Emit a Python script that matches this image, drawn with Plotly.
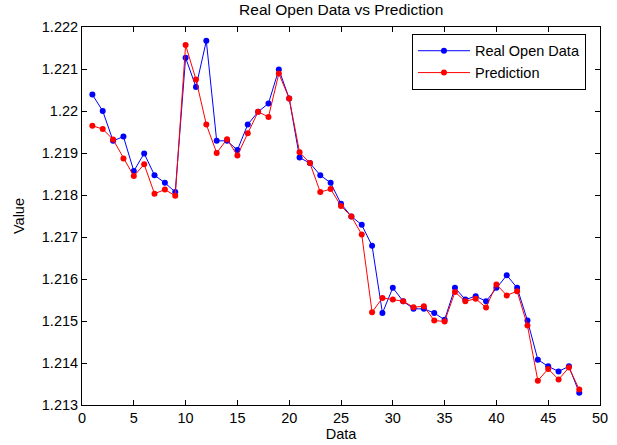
import plotly.graph_objects as go

x = list(range(1, 49))
real_open = [1.22039, 1.22000, 1.21929, 1.21939, 1.21857, 1.21899, 1.21847, 1.21829, 1.21807, 1.22127,
             1.22057, 1.22167, 1.21929, 1.21929, 1.21907, 1.21968, 1.21998, 1.22018, 1.22099, 1.22030,
             1.21889, 1.21876, 1.21847, 1.21829, 1.21779, 1.21749, 1.21729, 1.21679, 1.21519, 1.21579,
             1.21547, 1.21529, 1.21529, 1.21519, 1.21503, 1.21579, 1.21551, 1.21559, 1.21547, 1.21579,
             1.21609, 1.21579, 1.21501, 1.21408, 1.21392, 1.21380, 1.21392, 1.21329]
prediction = [1.21965, 1.21957, 1.21932, 1.21887, 1.21845, 1.21873, 1.21803, 1.21813, 1.21798, 1.22157,
              1.22075, 1.21968, 1.21900, 1.21933, 1.21894, 1.21947, 1.21998, 1.21986, 1.22089, 1.22030,
              1.21902, 1.21876, 1.21807, 1.21814, 1.21774, 1.21749, 1.21706, 1.21521, 1.21555, 1.21551,
              1.21547, 1.21533, 1.21535, 1.21501, 1.21499, 1.21569, 1.21547, 1.21553, 1.21532, 1.21587,
              1.21561, 1.21571, 1.21489, 1.21358, 1.21386, 1.21361, 1.21389, 1.21337]

xticks = [0, 5, 10, 15, 20, 25, 30, 35, 40, 45, 50]
yticks = [1.213, 1.214, 1.215, 1.216, 1.217, 1.218, 1.219, 1.220, 1.221, 1.222]
yticktext = ["1.213", "1.214", "1.215", "1.216", "1.217", "1.218", "1.219", "1.22", "1.221", "1.222"]

font = "Liberation Sans, Arial, Helvetica, sans-serif"

fig = go.Figure()
fig.add_trace(go.Scatter(x=x, y=real_open, mode="lines+markers", name="Real Open Data",
                         line=dict(color="#0000ff", width=1), marker=dict(color="#0000ff", size=6)))
fig.add_trace(go.Scatter(x=x, y=prediction, mode="lines+markers", name="Prediction",
                         line=dict(color="#ff0000", width=1), marker=dict(color="#ff0000", size=6)))

axis_common = dict(showline=True, linecolor="black", linewidth=1, mirror="ticks", ticks="inside",
                   ticklen=5, tickcolor="black", showgrid=False, zeroline=False, automargin=False,
                   tickfont=dict(family=font, size=14.5, color="black"))

fig.update_layout(
    width=617, height=445,
    margin=dict(l=82, r=17, t=27, b=40),
    paper_bgcolor="white", plot_bgcolor="white",
    font=dict(family=font, size=14.5, color="black"),
    title=dict(text="Real Open Data vs Prediction", x=0.553, xanchor="center", y=0.99, yanchor="top",
               font=dict(family=font, size=15.5, color="black")),
    xaxis=dict(range=[0, 50], tickvals=xticks, title=dict(text="Data", standoff=2,
               font=dict(family=font, size=14.5)), **axis_common),
    yaxis=dict(range=[1.213, 1.222], tickvals=yticks, ticktext=yticktext,
               title=dict(text="Value", standoff=13, font=dict(family=font, size=14.5)), **axis_common),
    legend=dict(x=0.637, y=0.982, xanchor="left", yanchor="top", bordercolor="black", borderwidth=1,
                bgcolor="white", font=dict(family=font, size=14.5), tracegroupgap=0, itemwidth=52),
    showlegend=True,
)

fig.write_html("out.html")
